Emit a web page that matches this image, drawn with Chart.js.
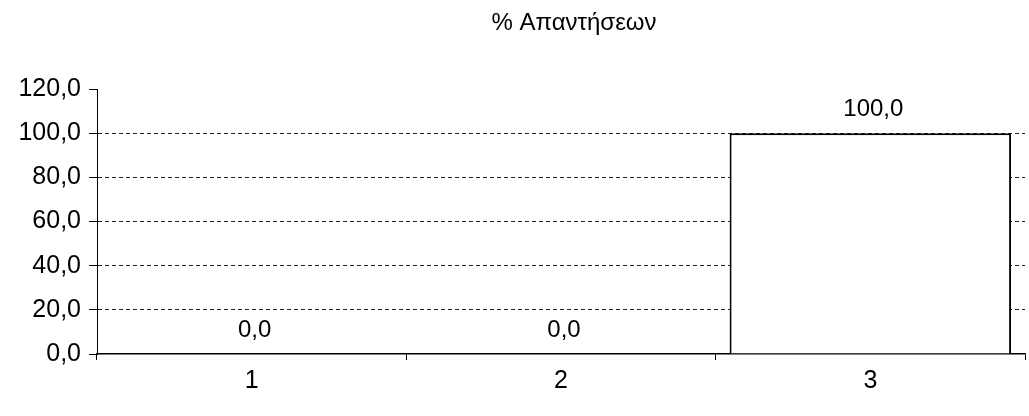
<!DOCTYPE html>
<html>
<head>
<meta charset="utf-8">
<script src="https://cdn.jsdelivr.net/npm/chart.js@4/dist/chart.umd.min.js"></script>
<style>
  html, body { margin: 0; padding: 0; background: #fff; }
  #wrap { width: 1029px; height: 416px; }
</style>
</head>
<body>
<div id="wrap"><canvas id="chart" width="1029" height="416"></canvas></div>
<script>
// Data
const TITLE = "% Απαντήσεων";
const categories = ["1", "2", "3"];
const percentValues = [0.0, 0.0, 100.0];
const yTicks = [0, 20, 40, 60, 80, 100, 120];

const FONT = '"Liberation Sans", Arial, sans-serif';

// Greek locale style: one decimal, comma separator
const fmt = (v) => v.toFixed(1).replace(".", ",");

// Title and value labels drawn on the canvas after the bars.
const labelsPlugin = {
  id: "labels",
  afterDatasetsDraw(chart) {
    const { ctx } = chart;
    const meta = chart.getDatasetMeta(0);
    ctx.save();
    ctx.fillStyle = "#000";
    ctx.textAlign = "center";
    ctx.textBaseline = "alphabetic";
    ctx.font = `24px ${FONT}`;
    meta.data.forEach((bar, i) => {
      ctx.fillText(fmt(percentValues[i]), bar.x + 3, bar.y - 17);
    });
    ctx.font = `24px ${FONT}`;
    ctx.textBaseline = "middle";
    ctx.fillText(TITLE, 574, 23);
    ctx.restore();
  },
};

new Chart(document.getElementById("chart"), {
  type: "bar",
  data: {
    labels: categories,
    datasets: [{
      data: percentValues,
      backgroundColor: "#fff",
      borderColor: "#000",
      borderWidth: 2,
      borderSkipped: "start",
      barPercentage: 0.91,
      categoryPercentage: 1,
    }],
  },
  options: {
    responsive: false,
    animation: false,
    layout: { padding: { top: 89, right: 4, left: 0, bottom: 0 } },
    plugins: {
      legend: { display: false },
      tooltip: { enabled: false },
      title: { display: false },
    },
    scales: {
      x: {
        offset: true,
        grid: {
          offset: true,
          drawOnChartArea: false,
          drawTicks: true,
          tickLength: 6,
          tickColor: "#000",
          tickWidth: 1,
        },
        border: { display: true, color: "#000", width: 1.5 },
        ticks: { color: "#000", font: { family: FONT, size: 25 }, padding: 6 },
        afterFit(scale) { scale.height = 62; },
      },
      y: {
        min: 0,
        max: 120,
        afterBuildTicks(scale) { scale.ticks = yTicks.map((v) => ({ value: v })); },
        grid: {
          color: (c) => (c.tick && (c.tick.value === 0 || c.tick.value === 120) ? "rgba(0,0,0,0)" : "#222"),
          lineWidth: 1,
          tickColor: "#000",
          tickLength: 8,
          tickBorderDash: [],
        },
        border: { display: true, color: "#000", width: 1, dash: [4, 3] },
        ticks: {
          color: "#000",
          font: { family: FONT, size: 25 },
          padding: 8,
          callback: (v) => fmt(v),
        },
        afterFit(scale) { scale.width = 97; },
      },
    },
  },
  plugins: [labelsPlugin],
});
</script>
</body>
</html>
